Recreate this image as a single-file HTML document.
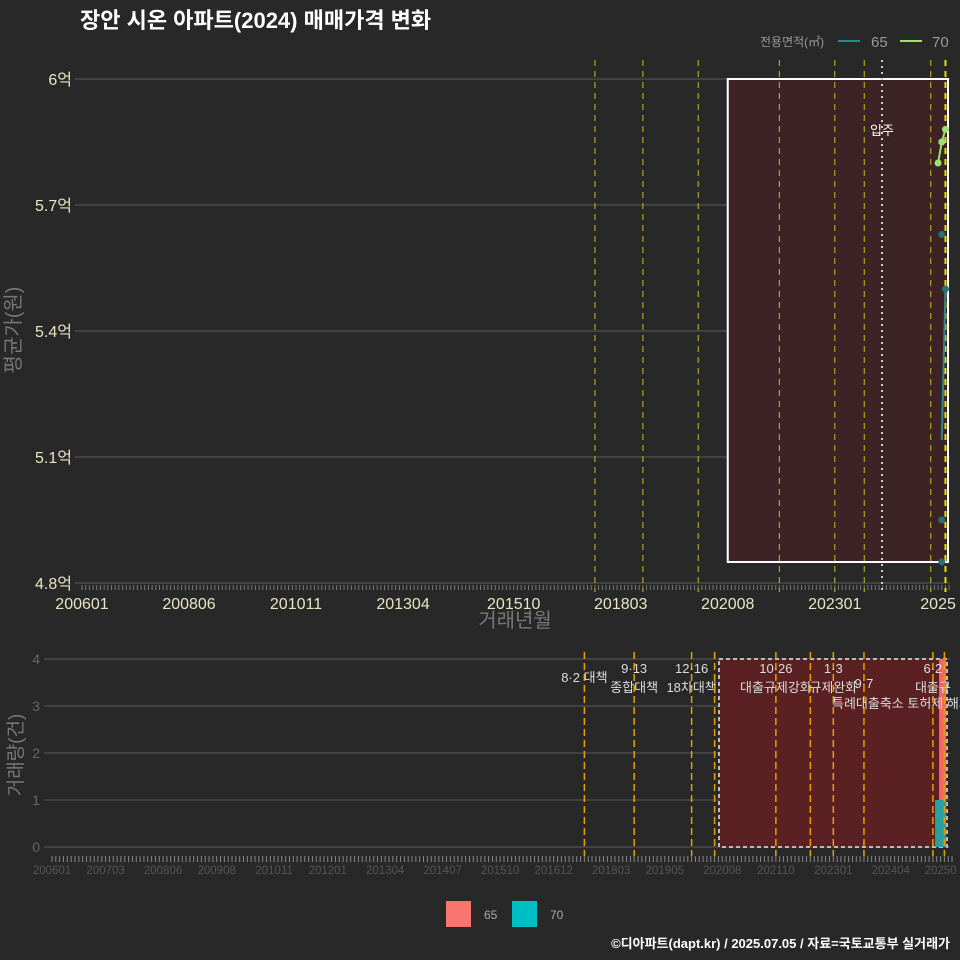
<!DOCTYPE html>
<html><head><meta charset="utf-8"><style>
body{margin:0;background:#282828;}
svg{display:block;font-family:"Liberation Sans","Noto Sans CJK KR",sans-serif;}
</style></head><body>
<svg id="c" width="960" height="960" viewBox="0 0 960 960">
<rect width="960" height="960" fill="#282828"/>
<text x="80" y="28" font-size="22" font-weight="bold" fill="#fff">장안 시온 아파트(2024) 매매가격 변화</text>
<g id="topg"></g><g id="botg"></g>
<text x="760" y="46" font-size="12" fill="#999">전용면적(㎡)</text>
<line x1="838" y1="41" x2="860" y2="41" stroke="#2a8a8a" stroke-width="2"/>
<text x="871" y="47" font-size="15" fill="#999">65</text>
<line x1="900" y1="41" x2="922" y2="41" stroke="#9de070" stroke-width="2"/>
<text x="932" y="47" font-size="15" fill="#999">70</text>
<rect x="446" y="901" width="25" height="26" fill="#f8766d"/>
<text x="484" y="919" font-size="12" fill="#aaa">65</text>
<rect x="512" y="901" width="25" height="26" fill="#00bfc4"/>
<text x="550" y="919" font-size="12" fill="#aaa">70</text>
<text x="950" y="948" font-size="13" font-weight="bold" fill="#fff" text-anchor="end">©디아파트(dapt.kr) / 2025.07.05 / 자료=국토교통부 실거래가</text>
</svg>
<script>
const tickLabels=["200601","200806","201011","201304","201510","201803","202008","202301","202505"];
const yTicks=[4.8,5.1,5.4,5.7,6.0];
const policyTop=["201708","201809","201912","202110","202301","202309","202503","202507"];
const s70Months=["202505","202506","202507"];
const s70Vals=[5.80,5.85,5.88];
const s65Months=["202506","202507","202506","202506","202506"];
const s65Vals=[5.14,5.50,5.63,4.95,4.85];
const botTickLabels=["200601","200703","200806","200908","201011","201201","201304","201407","201510","201612","201803","201905","202008","202110","202301","202404","202505"];
const barMonths=["202505"];
const bar65=[3];
const bar70=[1];
const policyMonths=["201708","201809","201912","202006","202110","202207","202301","202309","202503","202506"];
const policyTop1=["8·2 대책","9·13","12·16","","10·26","","1·3","","6·2",""];
const policyTop2=["","종합대책","18차대책","","대출규제강화","","규제완화","9·7","대출규",""];
const NS="http://www.w3.org/2000/svg";
function mi(s){return (parseInt(s.slice(0,4))-2006)*12+parseInt(s.slice(4))-1;}
function mk(p,t,a){const e=document.createElementNS(NS,t);for(const k in a)e.setAttribute(k,a[k]);p.appendChild(e);return e;}
const gTop=document.getElementById('topg'),gBot=document.getElementById('botg');
const xT=m=>82+mi(m)*3.69, yT=v=>583-(v-4.8)/0.3*126;
const xB=m=>52+mi(m)*3.83, yB=v=>847-v*47;
yTicks.forEach(v=>{let l=mk(gTop,'line',{x1:75,x2:950,y1:yT(v),y2:yT(v),stroke:'#5a5a5a'});


let t=mk(gTop,'text',{x:72,y:yT(v)+6,'font-size':16,fill:'#e8e6c0','text-anchor':'end'});t.textContent=(v===6?'6':v.toFixed(1))+'억';

});
for(let i=0;i<=235;i++){mk(gTop,'line',{x1:82+i*3.69,x2:82+i*3.69,y1:585,y2:590,stroke:'#777','stroke-width':1});}
tickLabels.forEach(s=>{let t=mk(gTop,'text',{x:xT(s),y:609,'font-size':16,fill:'#e8e6c0','text-anchor':'middle'});t.textContent=s==="202505"?"2025":s;

});
let r=mk(gTop,'rect',{x:xT("202008"),y:79,width:948-xT("202008"),height:483,fill:'#3e2326',stroke:'#fff','stroke-width':2});


policyTop.forEach((s,i)=>{let l=mk(gTop,'line',{x1:xT(s),x2:xT(s),y1:60,y2:592,stroke:i==policyTop.length-1?'#e8e000':'#a8a820','stroke-dasharray':'6,5','stroke-width':i==policyTop.length-1?2:1.2});

});
let ml=mk(gTop,'line',{x1:882,x2:882,y1:60,y2:592,stroke:'#ccc','stroke-dasharray':'2,4','stroke-width':2});


let mt=mk(gTop,'text',{x:882,y:135,'font-size':13,fill:'#fff','text-anchor':'middle'});mt.textContent='입주';


let p70=mk(gTop,'polyline',{points:s70Months.map((m,i)=>xT(m)+','+yT(s70Vals[i])).join(' '),fill:'none',stroke:'#9de070','stroke-width':2});


let p65=mk(gTop,'polyline',{points:s65Months.slice(0,2).map((m,i)=>xT(m)+','+yT(s65Vals[i])).join(' '),fill:'none',stroke:'#2a8a8a','stroke-width':2});


s70Months.forEach((m,i)=>{let c=mk(gTop,'circle',{cx:xT(m),cy:yT(s70Vals[i]),r:3.5,fill:'#9de070'});

});
s65Months.forEach((m,i)=>{if(i==0)return;let c=mk(gTop,'circle',{cx:xT(m),cy:yT(s65Vals[i]),r:3.5,fill:'#2a7070'});

});
let ya=mk(gTop,'text',{x:20,y:330,'font-size':20,fill:'#777','text-anchor':'middle',transform:'rotate(-90 20 330)'});ya.textContent='평균가(원)';


let xa=mk(gTop,'text',{x:515,y:627,'font-size':20,fill:'#777','text-anchor':'middle'});xa.textContent='거래년월';


[0,1,2,3,4].forEach(v=>{let l=mk(gBot,'line',{x1:44,x2:950,y1:yB(v),y2:yB(v),stroke:'#5a5a5a'});


let t=mk(gBot,'text',{x:40,y:yB(v)+5,'font-size':14,fill:'#666','text-anchor':'end'});t.textContent=v;

});
for(let i=0;i<=235;i++){mk(gBot,'line',{x1:52+i*3.83,x2:52+i*3.83,y1:856,y2:862,stroke:'#888'});}
botTickLabels.forEach(s=>{let t=mk(gBot,'text',{x:xB(s),y:874,'font-size':11.5,fill:'#555','text-anchor':'middle'});t.textContent=s==="202505"?"20250":s;

});
let r2=mk(gBot,'rect',{x:719,y:659,width:947-719,height:188,fill:'#5a2022',stroke:'#bbb','stroke-width':2,'stroke-dasharray':'4,3'});


barMonths.forEach((m,i)=>{const x=xB(m)-5.5;
let b=mk(gBot,'rect',{x:x,y:yB(bar70[i]),width:11,height:bar70[i]*47,fill:'#2aa0a0'});


let a=mk(gBot,'rect',{x:x+4,y:yB(bar70[i]+bar65[i]),width:7,height:bar65[i]*47,fill:'#f8665d'});

});
policyMonths.forEach((s,i)=>{let l=mk(gBot,'line',{x1:xB(s),x2:xB(s),y1:652,y2:856,stroke:'#e8a000','stroke-dasharray':'7,4','stroke-width':1.5});


if(policyTop1[i]){let t=mk(gBot,'text',{x:xB(s),y:i==0?682:673,'font-size':13,fill:'#ddd','text-anchor':'middle'});t.textContent=policyTop1[i];

}
if(policyTop2[i]){let t=mk(gBot,'text',{x:xB(s),y:i==7?688:692,'font-size':13,fill:'#ddd','text-anchor':'middle'});t.textContent=policyTop2[i];

}});
let t9=mk(gBot,'text',{x:832,y:708,'font-size':13,fill:'#ddd','text-anchor':'start'});t9.textContent='특례대출축소 토허제 해제';


let yb=mk(gBot,'text',{x:22,y:755,'font-size':19,fill:'#777','text-anchor':'middle',transform:'rotate(-90 22 755)'});yb.textContent='거래량(건)';


</script>
</body></html>
